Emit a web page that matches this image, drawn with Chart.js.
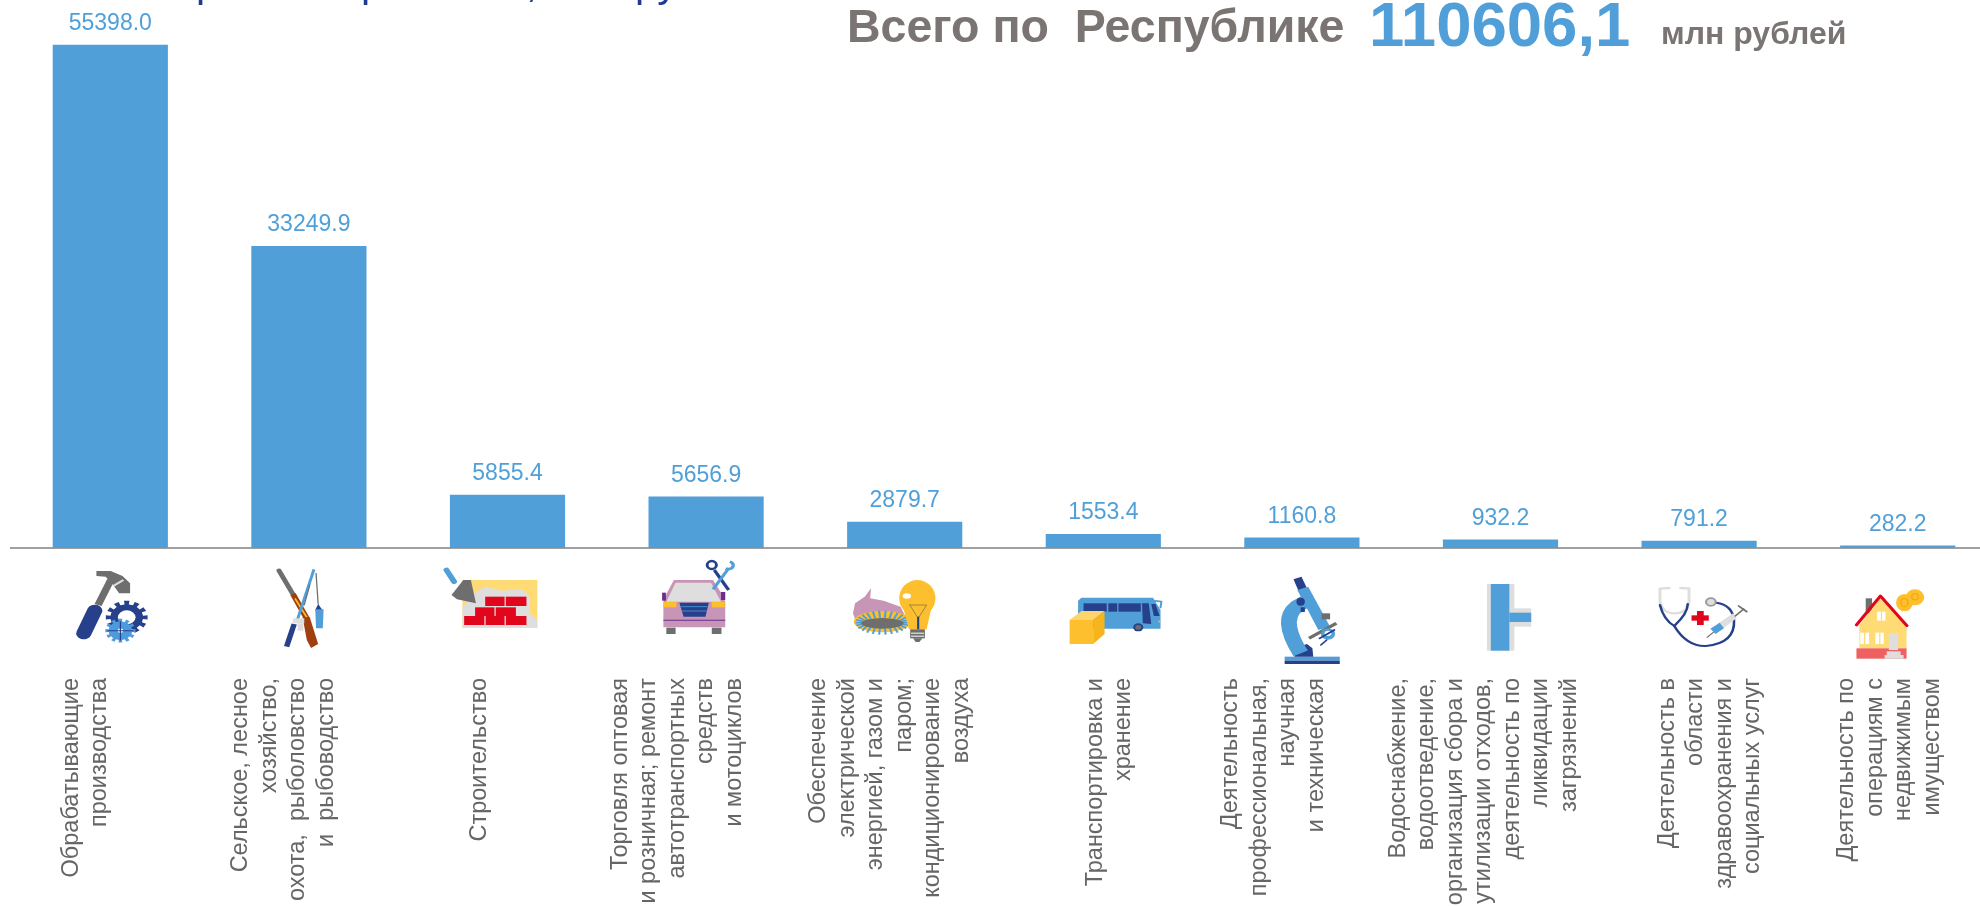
<!DOCTYPE html>
<html lang="ru"><head><meta charset="utf-8">
<style>html,body{margin:0;padding:0;background:#fff;overflow:hidden;width:1980px;height:906px}canvas{display:block}</style>
<script src="https://cdn.jsdelivr.net/npm/chart.js@4/dist/chart.umd.min.js"></script>
</head><body><canvas id="c" width="2000" height="906"></canvas>
<script>
const categories = [
  ['Обрабатывающие','производства'],
  ['Сельское, лесное','хозяйство,','охота,  рыболовство','и  рыбоводство'],
  ['Строительство'],
  ['Торговля оптовая','и розничная; ремонт','автотранспортных','средств','и мотоциклов'],
  ['Обеспечение','электрической','энергией, газом и','паром;','кондиционирование','воздуха'],
  ['Транспортировка и','хранение'],
  ['Деятельность','профессиональная,','научная','и техническая'],
  ['Водоснабжение,','водоотведение,','организация сбора и','утилизации отходов,','деятельность по','ликвидации','загрязнений'],
  ['Деятельность в','области','здравоохранения и','социальных услуг'],
  ['Деятельность по','операциям с','недвижимым','имуществом']
];
const values = [55398.0,33249.9,5855.4,5656.9,2879.7,1553.4,1160.8,932.2,791.2,282.2];
const labelShift = [-39,-68,-28,-86,-86,-8,-71,-102,-32,-51];

const BLUE='#519fd9', NAVY='#27408b', GREY='#6e6e6e', LG='#dedede', GOLD='#fdbf2d', RED='#e2061c', SAND='#fedb75', PINK='#c795b6';

function P(c,col,pts){c.fillStyle=col;c.beginPath();pts.forEach((p,i)=>i?c.lineTo(p[0],p[1]):c.moveTo(p[0],p[1]));c.closePath();c.fill();}
function R(c,col,x0,y0,x1,y1){c.fillStyle=col;c.fillRect(x0,y0,x1-x0,y1-y0);}
function E(c,col,x,y,rx,ry){c.fillStyle=col;c.beginPath();c.ellipse(x,y,rx,ry||rx,0,0,Math.PI*2);c.fill();}
function L(c,col,w,pts,cap){c.strokeStyle=col;c.lineWidth=w;c.lineCap=cap||'round';c.lineJoin='round';c.beginPath();pts.forEach((p,i)=>i?c.lineTo(p[0],p[1]):c.moveTo(p[0],p[1]));c.stroke();}
function G(c,col,x,y,r,n,hole){
  c.fillStyle=col;c.beginPath();
  for(let i=0;i<n*2;i++){const a0=(i-.5)*Math.PI/n,a1=(i+.5)*Math.PI/n,q=i%2?r*.78:r;
    c.lineTo(x+Math.cos(a0)*q,y+Math.sin(a0)*q);c.lineTo(x+Math.cos(a1)*q,y+Math.sin(a1)*q);}
  c.closePath();c.fill();E(c,'#fff',x,y,r*hole);
}
/* each icon draws in a frame whose origin is [anchor, 530 top] of its category */
const icons = [
 {a:261,d(c){
   L(c,GREY,18,[[232,225],[262,150]],'butt');
   P(c,GREY,[[228,123],[262,123],[290,138],[308,160],[308,190],[282,190],[268,165],[250,140],[228,138]]);
   L(c,LG,6,[[268,168],[292,150]],'butt');
   L(c,NAVY,36,[[198,310],[224,242]]);
   G(c,NAVY,300,262,50,12,.42);
   G(c,'#4d9bdc',285,302,36,12,.18);
   L(c,NAVY,3,[[285,275],[285,330]]);L(c,NAVY,3,[[255,302],[315,302]]);
 }},
 {a:733,d(c){
   L(c,GREY,12,[[662,122],[694,190]]);
   L(c,'#a1400f',14,[[695,192],[730,270]],'butt');
   L(c,GOLD,4,[[700,205],[728,262]],'butt');
   P(c,'#a1400f',[[718,262],[735,262],[755,342],[738,354],[728,330]]);
   L(c,BLUE,7,[[745,118],[705,272]],'butt');
   L(c,NAVY,13,[[698,282],[680,350]],'butt');
   R(c,LG,695,265,722,280);R(c,LG,706,280,720,302);
   L(c,GREY,3,[[750,130],[755,222]]);
   L(c,GREY,3,[[735,165],[722,225]]);
   P(c,NAVY,[[755,222],[765,240],[748,240]]);
   P(c,BLUE,[[748,238],[768,238],[766,295],[750,295]]);
 }},
 {a:1205,d(c){
   R(c,SAND,1098,150,1276,293);
   P(c,LG,[[1120,195],[1150,170],[1190,182],[1240,178],[1258,200],[1256,250],[1276,270],[1276,293],[1098,293],[1098,235]]);
   [[1152,200,1198,228],[1201,200,1250,228],[1128,232,1174,258],[1177,232,1225,258],[1102,258,1150,285],[1153,258,1198,285],[1201,258,1250,285]]
     .forEach(b=>R(c,RED,b[0],b[1],b[2],b[3]));
   P(c,GREY,[[1100,150],[1118,150],[1130,220],[1085,208],[1072,195]]);
   L(c,BLUE,14,[[1060,120],[1078,155]]);
 }},
 {a:108.5,d(c){
   P(c,PINK,[[32,150],[125,150],[145,190],[154,215],[154,292],[7,292],[7,215],[15,190]]);
   P(c,LG,[[36,158],[120,158],[144,215],[14,215]]);
   R(c,'#6b2d90',4,188,13,212);R(c,'#6b2d90',144,186,154,210);
   R(c,GOLD,8,216,38,232);R(c,GOLD,122,216,153,232);
   P(c,NAVY,[[45,218],[115,218],[107,260],[55,260]]);
   L(c,BLUE,2,[[48,230],[112,230]],'butt');L(c,BLUE,2,[[50,243],[110,243]],'butt');
   L(c,'#6b2d90',3,[[7,271],[154,271]],'butt');
   R(c,GREY,14,293,36,312);R(c,GREY,122,293,145,312);
   L(c,NAVY,8,[[128,120],[162,180]],'butt');
   c.strokeStyle=NAVY;c.lineWidth=7;c.beginPath();c.ellipse(122,105,11,12,0,0,7);c.stroke();
   L(c,BLUE,8,[[125,178],[162,115]],'butt');
   c.strokeStyle=BLUE;c.lineWidth=8;c.beginPath();c.arc(162,106,11,-1.3,2.2);c.stroke();
 }},
 {a:580,d(c){
   P(c,PINK,[[457,250],[462,220],[485,200],[500,175],[498,205],[530,212],[570,230],[590,280],[520,305],[470,295]]);
   E(c,GOLD,527,275,68,32);
   c.strokeStyle=BLUE;c.lineWidth=5;c.lineCap='butt';
   for(let i=0;i<26;i++){const a=i/26*Math.PI*2;
     c.beginPath();c.moveTo(527+Math.cos(a)*48,278+Math.sin(a)*14);c.lineTo(527+Math.cos(a)*64,278+Math.sin(a)*36);c.stroke();}
   E(c,GREY,527,280,50,16);
   E(c,GOLD,610,205,43,55);
   P(c,GOLD,[[575,225],[645,225],[632,298],[590,298]]);
   E(c,'#fff',585,198,10,8);
   L(c,'#555',1.5,[[592,225],[632,225],[612,265],[592,225]]);
   L(c,NAVY,5,[[612,260],[612,298]],'butt');
   R(c,GREY,593,298,628,325);R(c,'#fff',595,308,626,311);R(c,'#fff',595,317,626,320);
   P(c,GREY,[[600,325],[622,325],[615,336],[606,336]]);
 }},
 {a:1052,d(c){
   P(c,BLUE,[[992,212],[1000,203],[1170,203],[1188,240],[1188,296],[992,296]]);
   R(c,NAVY,1005,220,1060,245);R(c,NAVY,1064,220,1085,245);R(c,NAVY,1088,220,1141,245);
   P(c,NAVY,[[1144,220],[1160,220],[1166,282],[1146,280]]);
   P(c,NAVY,[[1166,222],[1176,222],[1186,258],[1172,258]]);
   L(c,BLUE,5,[[1170,212],[1190,215],[1188,232]]);
   E(c,NAVY,1135,292,12);E(c,GREY,1135,292,7);
   R(c,GOLD,1183,272,1187,277);
   R(c,GOLD,972,270,1028,342);
   P(c,'#fed56a',[[972,270],[1000,243],[1055,243],[1028,270]]);
   P(c,'#f7b51d',[[1028,270],[1055,243],[1055,312],[1028,342]]);
 }},
 {a:1523,d(c){
   R(c,BLUE,1482,380,1613,392);R(c,NAVY,1482,392,1613,402);
   P(c,NAVY,[[1505,380],[1515,350],[1535,342],[1548,355],[1550,380]]);
   c.strokeStyle=BLUE;c.lineWidth=38;c.lineCap='butt';c.beginPath();c.moveTo(1520,370);c.quadraticCurveTo(1470,270,1510,230);c.lineTo(1545,205);c.stroke();
   P(c,BLUE,[[1512,180],[1538,170],[1590,290],[1562,300]]);
   E(c,NAVY,1520,215,10,12);R(c,NAVY,1520,232,1530,246);
   P(c,NAVY,[[1503,148],[1522,140],[1534,172],[1514,180]]);
   L(c,GREY,9,[[1540,325],[1605,280]],'butt');
   R(c,GREY,1570,250,1590,268);
   E(c,BLUE,1585,312,17);E(c,'#fff',1585,310,8);
   L(c,NAVY,5,[[1565,325],[1600,300]]);L(c,NAVY,4,[[1568,345],[1582,330]]);
 }},
 {a:427,d(c){
   R(c,LG,395,162,460,362);
   R(c,LG,450,235,500,290);
   R(c,BLUE,404,162,448,362);
   R(c,BLUE,448,248,500,276);
 }},
 {a:899,d(c){
   c.lineCap='round';
   c.strokeStyle=LG;c.lineWidth=7;c.beginPath();c.moveTo(806,176);c.lineTo(806,215);c.quadraticCurveTo(812,250,840,250);c.quadraticCurveTo(872,250,875,215);c.lineTo(875,176);c.lineTo(855,174);c.moveTo(806,176);c.lineTo(828,174);c.stroke();
   c.strokeStyle=NAVY;c.lineWidth=6;c.beginPath();c.moveTo(806,225);c.quadraticCurveTo(815,270,840,288);c.quadraticCurveTo(872,250,872,222);c.stroke();
   c.beginPath();c.moveTo(840,288);c.quadraticCurveTo(870,350,915,348);c.quadraticCurveTo(985,340,982,270);c.quadraticCurveTo(978,225,940,218);c.stroke();
   E(c,'#9a9a9a',927,216,14);E(c,LG,927,216,9);
   R(c,RED,894,243,910,285);R(c,RED,881,256,922,272);
   L(c,GREY,3,[[918,322],[935,305]]);
   P(c,LG,[[926,296],[980,250],[988,265],[938,312]]);
   P(c,BLUE,[[926,296],[948,278],[958,295],[938,312]]);
   L(c,GREY,4,[[985,258],[1005,237]]);L(c,GREY,5,[[993,228],[1012,245]]);
 }},
 {a:1371,d(c){
   R(c,GREY,1295,205,1310,250);
   R(c,SAND,1280,285,1392,355);
   P(c,SAND,[[1280,285],[1330,205],[1390,285]]);
   R(c,'#ef6161',1273,355,1392,386);
   L(c,RED,8,[[1273,285],[1330,198],[1393,287]]);
   R(c,'#fff',1322,245,1342,272);
   R(c,'#fff',1282,308,1303,342);R(c,'#fff',1318,308,1338,342);
   R(c,SAND,1291,308,1294,342);R(c,SAND,1327,308,1330,342);R(c,SAND,1331,245,1334,272);
   R(c,LG,1350,310,1372,360);
   R(c,LG,1345,364,1378,375);R(c,LG,1340,375,1385,386);
   E(c,GOLD,1412,202,22,24);E(c,GOLD,1387,218,20,26);
   E(c,'#f2a900',1387,218,10,14);E(c,GOLD,1387,218,7,11);
   E(c,'#f2a900',1412,200,9,11);E(c,GOLD,1412,200,6,8);
 }}
];

const adjustTicks = {id:'adjustTicks',beforeDraw(chart){
  const s=chart.scales.x, items=s.getLabelItems(chart.chartArea);
  if(items.__shifted) return;
  items.forEach((it,i)=>{it.options.translation[0]+=labelShift[i];});
  items.__shifted=true;
}};
const decorations = {id:'decorations',afterDatasetsDraw(chart){
  const c=chart.ctx, x=chart.scales.x, y=chart.scales.y;
  c.save();
  /* value labels */
  c.font='23px "Liberation Sans"';c.fillStyle='#4f9fd9';c.textAlign='center';c.textBaseline='alphabetic';
  values.forEach((v,i)=>c.fillText(v.toFixed(1),x.getPixelForValue(i),y.getPixelForValue(v)-14.5));
  /* icons */
  icons.forEach((ic,i)=>{c.save();
    c.translate(x.getPixelForValue(i),530);c.scale(1/2.376,1/3);c.translate(-ic.a,0);
    ic.d(c);c.restore();});
  /* headline */
  c.textAlign='left';
  c.fillStyle='#7a7472';c.font='bold 46.5px "Liberation Sans"';c.fillText('Всего по  Республике',847,42);
  c.fillStyle='#519fd9';c.font='bold 63.5px "Liberation Sans"';c.fillText('110606,1',1369,46);
  c.fillStyle='#7a7472';c.font='bold 32px "Liberation Sans"';c.fillText('млн рублей',1661,44);
  /* title, cut off by the top of the picture: only this part can be read */
  c.fillStyle='#1f3a93';c.font='41px "Liberation Sans"';
  c.fillText('р',196,-3);c.fillText('р',361,-3);c.fillText(', млн рублей',526,-3);
  c.restore();
}};

new Chart(document.getElementById('c'),{
  type:'bar',
  data:{labels:categories,datasets:[{data:values,backgroundColor:BLUE,borderWidth:0,barPercentage:.58,categoryPercentage:1}]},
  plugins:[adjustTicks,decorations],
  options:{
    responsive:false,animation:false,
    layout:{padding:{left:11,right:3,top:3,bottom:0}},
    plugins:{legend:{display:false},tooltip:{enabled:false}},
    scales:{
      y:{display:false,min:0,max:60000},
      x:{
        grid:{display:false,drawTicks:false},
        border:{display:true,color:'#a0a0a0',width:2},
        afterFit(s){s.height=358;s.paddingLeft=0;s.paddingRight=0;},
        ticks:{autoSkip:false,minRotation:90,maxRotation:90,padding:130,color:'#666666',
          font:{family:'"Liberation Sans"',size:23.5,lineHeight:'28.5px'}}
      }
    }
  }
});
</script></body></html>
